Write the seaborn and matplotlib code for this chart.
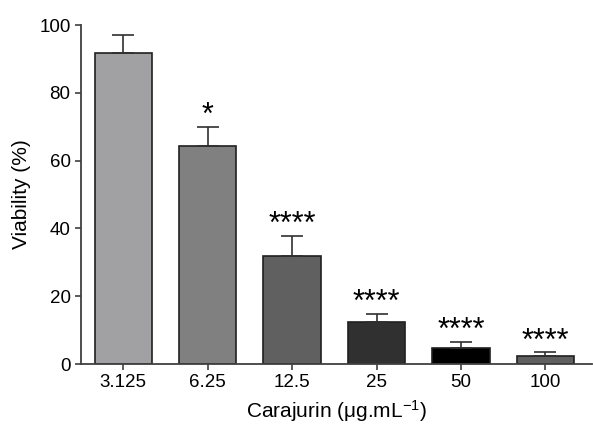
import pandas as pd
import numpy as np
import matplotlib
matplotlib.use('Agg')
import matplotlib.pyplot as plt
import seaborn as sns

# Data
concentrations = ['3.125', '6.25', '12.5', '25', '50', '100']
viability = [91.8, 64.3, 31.8, 12.3, 4.7, 2.5]
sem = [5.2, 5.7, 6.0, 2.5, 1.9, 0.9]
significance = ['', '*', '****', '****', '****', '****']
bar_colors = ['#a0a0a5', '#808080', '#606060', '#303030', '#000000', '#606060']

sns.set_style('ticks')
plt.rcParams['font.family'] = ['Liberation Sans', 'DejaVu Sans']
plt.rcParams['mathtext.default'] = 'regular'
plt.rcParams['text.color'] = 'black'
plt.rcParams['axes.labelcolor'] = 'black'
plt.rcParams['xtick.labelcolor'] = 'black'
plt.rcParams['ytick.labelcolor'] = 'black'

df = pd.DataFrame({'conc': concentrations, 'viability': viability})

fig = plt.figure(figsize=(5.93, 4.26), dpi=100)
ax = fig.add_axes([0.1366, 0.1455, 0.8614, 0.7955])

sns.barplot(data=df, x='conc', y='viability', hue='conc', palette=bar_colors,
            order=concentrations, hue_order=concentrations, legend=False,
            errorbar=None, width=0.68, edgecolor='#202020', linewidth=1.2, ax=ax)

x = np.arange(len(concentrations))
ax.errorbar(x, viability, yerr=[np.zeros(len(sem)), sem], fmt='none',
            ecolor='#303030', elinewidth=1.2, capsize=8, capthick=1.2, zorder=1)

for xi, v, s, lab in zip(x, viability, sem, significance):
    if lab:
        ax.annotate(lab, (xi, v + s), xytext=(0, -3), textcoords='offset points',
                    ha='center', va='bottom', fontsize=22)

ax.set_xlim(-0.5, 5.55)
ax.set_ylim(0, 100)
ax.set_yticks([0, 20, 40, 60, 80, 100])
ax.set_ylabel('Viability (%)', fontsize=15, labelpad=6)
ax.set_xlabel('Carajurin (μg.mL$^{-1}$)', fontsize=15, labelpad=5)
ax.tick_params(labelsize=13.5, width=1.2, length=4, color='#404040')
sns.despine(ax=ax)
for sp in ['left', 'bottom']:
    ax.spines[sp].set_linewidth(1.3)
    ax.spines[sp].set_color('#404040')

fig.savefig('out.png', dpi=100)
